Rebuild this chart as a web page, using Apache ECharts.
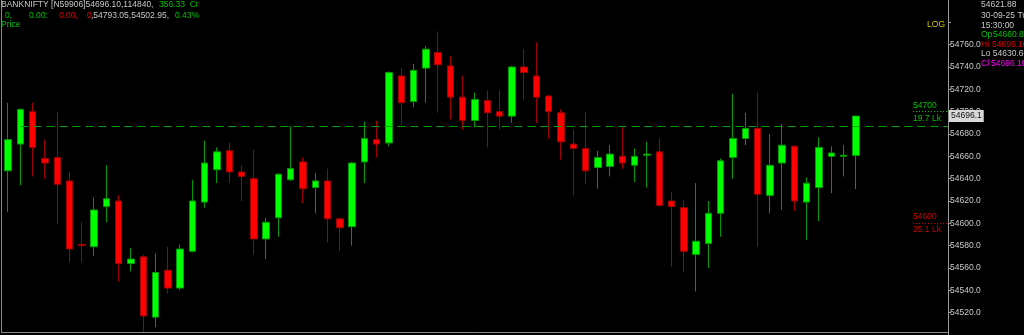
<!DOCTYPE html>
<html>
<head>
<meta charset="utf-8">
<script src="https://cdn.jsdelivr.net/npm/echarts@6/dist/echarts.min.js"></script>
<style>
html,body{margin:0;padding:0;background:#000;}
#chart{width:1024px;height:335px;}
</style>
</head>
<body>
<div id="chart"></div>
<script>
// ---- data ----
const openVals  = [54647,54671,54700,54658,54659,54638,54581,54579,54615,54620,54564,54570,54516,54558,54542,54575,54619,54648,54665,54646,54640,54586,54605,54639,54655,54632,54638,54604,54597,54655,54675,54672,54732,54709,54739,54753,54741,54713,54692,54710,54700,54696,54740,54732,54714,54699,54671,54667,54650,54651,54660,54652,54661,54664,54620,54614,54572,54582,54609,54659,54676,54685,54625,54654,54669,54619,54632,54660,54660,54660.8];
const closeVals = [54675,54702,54668,54654,54635,54577,54580,54612,54622,54564,54568,54517,54556,54542,54577,54620,54654,54664,54646,54642,54586,54601,54644,54649,54631,54638,54604,54596,54654,54676,54671,54735,54708,54737,54756,54742,54713,54692,54711,54699,54696,54740,54735,54713,54700,54673,54667,54647,54659,54662,54654,54660,54662,54616,54615,54575,54584,54609,54656,54676,54685,54626,54652,54670,54620,54636,54668,54663,54661,54696.1];
const lowVals   = [54610,54634,54642,54640,54599,54565,54565,54571,54601,54548,54557,54503,54507,54537,54540,54574,54614,54636,54636,54620,54572,54568,54588,54638,54618,54609,54583,54575,54580,54636,54659,54669,54688,54704,54708,54699,54693,54684,54686,54668,54684,54690,54711,54690,54676,54657,54625,54635,54631,54642,54649,54637,54632,54615,54561,54556,54539,54560,54588,54640,54670,54579,54609,54612,54611,54585,54602,54627,54642,54630.6];
const highVals  = [54708,54703,54708,54675,54700,54646,54601,54623,54652,54625,54578,54572,54573,54579,54581,54639,54674,54668,54672,54652,54666,54605,54645,54687,54659,54645,54649,54605,54655,54691,54692,54736,54739,54743,54759,54772,54750,54732,54717,54719,54719,54741,54756,54762,54715,54702,54684,54700,54665,54670,54686,54667,54673,54676,54628,54621,54636,54620,54658,54716,54699,54717,54680,54689,54670,54641,54677,54669,54670,54696.1];
const emptySlots = 7;              // blank space right of the last bar
const refLevel = 54687;            // dashed reference line
const callLevel = 54700, callText = '19.7 Lk';
const putLevel = 54600,  putText  = '25.1 Lk';
const lastPrice = 54696.1;
const yMin = 54500, yMax = 54800, yStep = 20;
const topLabel = 54760;            // highest labelled tick

const categories = [];
for (let i = 0; i < openVals.length + emptySlots; i++) categories.push(String(i + 1));
const candles = openVals.map((o, i) => [o, closeVals[i], lowVals[i], highVals[i]]);

// ---- layout ----
const W = 1024, H = 335;
const G_LEFT = 2, G_RIGHT = 76, G_TOP = -1, G_BOTTOM = -2;
const PLOT_R = W - G_RIGHT;
const FONT = 'Liberation Sans, Arial, sans-serif';
const FS = 8.5;
const GREY = '#c8c8c8', GREEN = '#00c000', RED = '#e00000', MAG = '#ff00ff';

function txt(x, y, text, color, align) {
  return {
    type: 'text', x: x, y: y, silent: true,
    style: { text: text, fill: color, font: FS + 'px ' + FONT, verticalAlign: 'middle', align: align || 'left' }
  };
}

const chart = echarts.init(document.getElementById('chart'), null, { renderer: 'canvas' });
chart.setOption({
  backgroundColor: '#000000',
  animation: false,
  grid: { left: G_LEFT, right: G_RIGHT, top: G_TOP, bottom: G_BOTTOM, containLabel: false },
  xAxis: {
    type: 'category', data: categories, boundaryGap: true,
    axisLine: { show: false }, axisTick: { show: false }, axisLabel: { show: false }, splitLine: { show: false }
  },
  yAxis: {
    type: 'value', position: 'right', min: yMin, max: yMax, interval: yStep, scale: true,
    axisLine: { show: true, lineStyle: { color: '#9a9a9a', width: 1 } },
    axisTick: { show: true, inside: false, length: 3, lineStyle: { color: '#9a9a9a' } },
    axisLabel: { show: true, color: GREY, fontSize: FS, fontFamily: FONT, margin: 2,
      showMinLabel: false, showMaxLabel: false, formatter: v => (v > topLabel ? '' : v.toFixed(1)) },
    splitLine: { show: false }
  },
  series: [{
    type: 'candlestick',
    data: candles,
    barWidth: 7,
    clip: false,
    itemStyle: {
      color: '#00ff00', borderColor: '#009a00',
      color0: '#ff0000', borderColor0: '#a00000', borderWidth: 1
    },
    markLine: {
      silent: true, symbol: 'none', animation: false,
      data: [
        [ { coord: [1, refLevel], lineStyle: { color: '#00a000', type: [8, 5], width: 1 }, label: { show: false } },
          { x: PLOT_R, yAxis: refLevel } ],
        [ { x: PLOT_R - 35, yAxis: callLevel, lineStyle: { color: GREEN, type: [1, 2], width: 1 },
            label: { show: true, position: 'insideStartTop', formatter: String(callLevel), color: GREEN, fontSize: FS, fontFamily: FONT, distance: [0, 2] } },
          { x: PLOT_R - 1, yAxis: callLevel } ],
        [ { x: PLOT_R - 35, yAxis: callLevel, lineStyle: { color: GREEN, type: [1, 2], width: 1 },
            label: { show: true, position: 'insideStartBottom', formatter: callText, color: GREEN, fontSize: FS, fontFamily: FONT, distance: [0, 2] } },
          { x: PLOT_R - 1, yAxis: callLevel } ],
        [ { x: PLOT_R - 35, yAxis: putLevel, lineStyle: { color: '#c00000', type: [1, 2], width: 1 },
            label: { show: true, position: 'insideStartTop', formatter: String(putLevel), color: '#d00000', fontSize: FS, fontFamily: FONT, distance: [0, 2] } },
          { x: PLOT_R - 1, yAxis: putLevel } ],
        [ { x: PLOT_R - 35, yAxis: putLevel, lineStyle: { color: '#c00000', type: [1, 2], width: 1 },
            label: { show: true, position: 'insideStartBottom', formatter: putText, color: '#d00000', fontSize: FS, fontFamily: FONT, distance: [0, 2] } },
          { x: PLOT_R - 1, yAxis: putLevel } ],
        [ { x: PLOT_R - 1, yAxis: lastPrice, lineStyle: { color: 'rgba(0,0,0,0)', width: 0 },
            label: { show: true, position: 'end', formatter: lastPrice.toFixed(1), color: '#111', backgroundColor: '#d8d8d8',
                     padding: [2, 2, 1, 2], fontSize: FS, fontFamily: FONT, distance: 1 } },
          { x: PLOT_R, yAxis: lastPrice } ]
      ]
    }
  }],
  graphic: [
    // frame
    { type: 'line', silent: true, shape: { x1: 1.5, y1: 0, x2: 1.5, y2: 333 }, style: { stroke: '#8a8a8a', lineWidth: 1 } },
    { type: 'line', silent: true, shape: { x1: 1, y1: 332.5, x2: PLOT_R, y2: 332.5 }, style: { stroke: '#8a8a8a', lineWidth: 1 } },
    // header
    txt(1, 5, 'BANKNIFTY [N59906]54696.10,114840,', GREY),
    txt(159, 5, '356.33  Cr', GREEN),
    txt(5, 15.5, '0,', GREEN),
    txt(29, 15.5, '0.00:', GREEN),
    txt(59, 15.5, '0.00,', RED),
    txt(87, 15.5, '0', RED),
    txt(91, 15.5, ',54793.05,54502.95,', GREY),
    txt(175, 15.5, '0.43%', GREEN),
    txt(1, 25, 'Price', GREEN),
    txt(945, 25, 'LOG', '#c8c800', 'right'),
    // info panel
    txt(981, 5, '54621.88', GREY),
    txt(981, 15.3, '30-09-25 Tue', GREY),
    txt(981, 25.5, '15:30:00', GREY),
    txt(981, 35, 'Op', GREEN),
    txt(993, 35, '54660.80', GREEN),
    txt(981, 44.5, 'Hi', RED),
    txt(992, 44.5, '54696.10', RED),
    txt(981, 54, 'Lo 54630.60', GREY),
    txt(981, 63.5, 'Cl', MAG),
    txt(991, 63.5, '54696.10', MAG)
  ]
});
</script>
</body>
</html>
